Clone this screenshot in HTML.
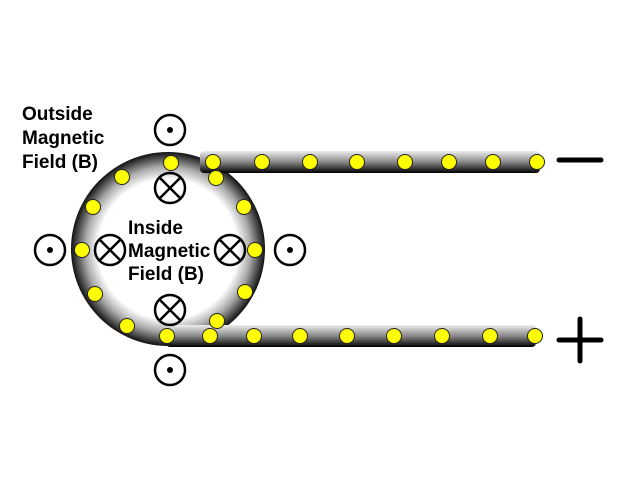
<!DOCTYPE html>
<html><head><style>body{margin:0;background:#fff}svg{display:block}</style></head><body>
<svg width="640" height="480" xmlns="http://www.w3.org/2000/svg">
<defs>
<radialGradient id="ring" cx="168" cy="249" r="97" gradientUnits="userSpaceOnUse">
<stop offset="0" stop-color="#fff"/><stop offset="0.72" stop-color="#fff"/><stop offset="0.85" stop-color="#aaa"/><stop offset="1" stop-color="#111"/>
</radialGradient>
<linearGradient id="wire" x1="0" y1="0" x2="0" y2="1">
<stop offset="0" stop-color="#eee"/><stop offset="0.5" stop-color="#888"/><stop offset="1" stop-color="#000"/>
</linearGradient>
</defs>
<circle cx="168" cy="249" r="97" fill="url(#ring)"/>
<rect x="200" y="151" width="340" height="22" rx="4" fill="url(#wire)"/>
<rect x="166" y="325" width="370" height="22" rx="4" fill="url(#wire)"/>
<g fill="#ff0" stroke="#222" stroke-width="1">
<circle cx="171" cy="163" r="7.5"/><circle cx="122" cy="177" r="7.5"/><circle cx="93" cy="207" r="7.5"/><circle cx="82" cy="250" r="7.5"/><circle cx="95" cy="294" r="7.5"/><circle cx="127" cy="326" r="7.5"/>
<circle cx="216" cy="178" r="7.5"/><circle cx="244" cy="207" r="7.5"/><circle cx="255" cy="250" r="7.5"/><circle cx="245" cy="292" r="7.5"/><circle cx="217" cy="321" r="7.5"/>
<circle cx="213" cy="162" r="7.5"/><circle cx="262" cy="162" r="7.5"/><circle cx="310" cy="162" r="7.5"/><circle cx="357" cy="162" r="7.5"/><circle cx="405" cy="162" r="7.5"/><circle cx="449" cy="162" r="7.5"/><circle cx="493" cy="162" r="7.5"/><circle cx="537" cy="162" r="7.5"/>
<circle cx="167" cy="336" r="7.5"/><circle cx="210" cy="336" r="7.5"/><circle cx="254" cy="336" r="7.5"/><circle cx="300" cy="336" r="7.5"/><circle cx="347" cy="336" r="7.5"/><circle cx="394" cy="336" r="7.5"/><circle cx="442" cy="336" r="7.5"/><circle cx="490" cy="336" r="7.5"/><circle cx="535" cy="336" r="7.5"/>
</g>
<g fill="none" stroke="#000" stroke-width="2.5">
<circle cx="170" cy="130" r="15"/><circle cx="50" cy="250" r="15"/><circle cx="290" cy="250" r="15"/><circle cx="170" cy="370" r="15"/>
<circle cx="170" cy="188" r="15"/><circle cx="110" cy="250" r="15"/><circle cx="230" cy="250" r="15"/><circle cx="170" cy="310" r="15"/>
<path d="M159.5 177.5l21 21M180.5 177.5l-21 21M99.5 239.5l21 21M120.5 239.5l-21 21M219.5 239.5l21 21M240.5 239.5l-21 21M159.5 299.5l21 21M180.5 299.5l-21 21"/>
</g>
<g fill="#000"><circle cx="170" cy="130" r="3"/><circle cx="50" cy="250" r="3"/><circle cx="290" cy="250" r="3"/><circle cx="170" cy="370" r="3"/></g>
<g stroke="#000" stroke-width="5" stroke-linecap="round"><path d="M559 160h42M559 340h42M580 319v42"/></g>
<g font-family="Liberation Sans, sans-serif" font-weight="bold" font-size="19" fill="#000">
<text x="22" y="120">Outside</text><text x="22" y="144">Magnetic</text><text x="22" y="168">Field (B)</text>
<text x="128" y="234">Inside</text><text x="128" y="257">Magnetic</text><text x="128" y="280">Field (B)</text>
</g>
</svg>
</body></html>
